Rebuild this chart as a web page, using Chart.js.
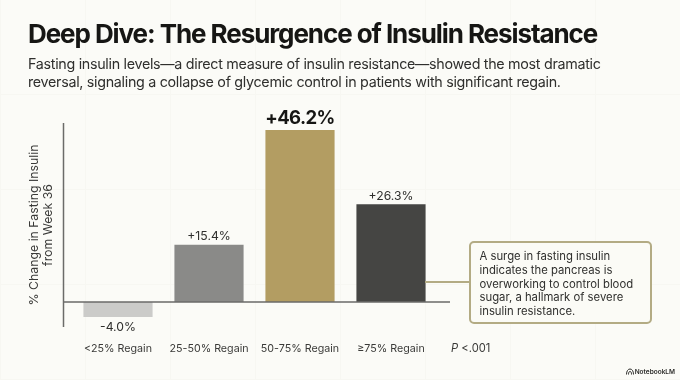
<!DOCTYPE html>
<html lang="en">
<head>
<meta charset="UTF-8" />
<title>Deep Dive: The Resurgence of Insulin Resistance</title>
<script src="https://cdn.jsdelivr.net/npm/chart.js"></script>
<style>
  html, body { margin: 0; padding: 0; }
  body {
    width: 680px; height: 380px; position: relative; overflow: hidden;
    font-family: Inter, "Noto Sans", sans-serif; color: #1d1d1b;
    background-color: #fbfbf7;
    background-image:
      linear-gradient(to right, #f7f7f2 1px, transparent 1px),
      linear-gradient(to bottom, #f7f7f2 1px, transparent 1px);
    background-size: 85px 95px;
    background-position: 0 -1px;
  }
  #chart { position: absolute; left: 0; top: 0; }
  h1 {
    position: absolute; left: 28px; top: 17px; margin: 0; white-space: nowrap;
    font-size: 26px; line-height: 34px; font-weight: 700; letter-spacing: -1.08px; color: #161614;
  }
  #sub {
    position: absolute; left: 28px; top: 55px; margin: 0; white-space: nowrap;
    font-size: 14.3px; line-height: 17.5px; color: #2f2f2d; letter-spacing: -0.3px;
  }
  #note {
    position: absolute; left: 469px; top: 240.5px; width: 183px; height: 83px;
    box-sizing: border-box; border: 2px solid #b3ab84; border-radius: 5px;
    background: #fbfbf6; padding: 7.5px 0 0 8.5px;
    font-size: 11.3px; line-height: 13.75px; color: #2f2f2d; white-space: nowrap;
  }
  #link { position: absolute; left: 425px; top: 281px; width: 44px; height: 2px; background: #b3ab84; }
  #pval { position: absolute; left: 451px; top: 341px; font-size: 11.2px; line-height: 15px; color: #3a3a38; }
  #brand {
    position: absolute; right: 5px; top: 368px; font-size: 6.5px; line-height: 9px;
    font-weight: 600; color: #2a2a28;
  }
  #brand svg { vertical-align: -1px; margin-right: 1px; }
</style>
</head>
<body>
<canvas id="chart" width="680" height="380"></canvas>
<h1>Deep Dive: The Resurgence of Insulin Resistance</h1>
<p id="sub">Fasting insulin levels—a direct measure of insulin resistance—showed the most dramatic<br>reversal, signaling a collapse of glycemic control in patients with significant regain.</p>
<div id="link"></div>
<div id="note">A surge in fasting insulin<br>indicates the pancreas is<br>overworking to control blood<br>sugar, a hallmark of severe<br>insulin resistance.</div>
<div id="pval"><i>P</i> &lt;.001</div>
<div id="brand"><svg width="8" height="7" viewBox="0 0 8 7"><path d="M0.5 6.5C0.5 3 2 1 4 1s3.500 2 3.500 5.500M2.500 6.500C2.500 4.500 3 3.500 4 3.500s1.500 1 1.500 3" fill="none" stroke="#2a2a28" stroke-width="1"/></svg>NotebookLM</div>

<script>
const categories = ['<25% Regain', '25-50% Regain', '50-75% Regain', '≥75% Regain'];
const changeValues = [-4.0, 15.4, 46.2, 26.3];
const barColors = ['#cbcbc9', '#8a8a88', '#b39d62', '#454543'];
const axisTitle = ['% Change in Fasting Insulin', 'from Week 36'];
const highlightIndex = 2;

// axis lines run a bit past the bars' category band, so they are drawn here
const axisLines = {
  id: 'axisLines',
  afterDatasetsDraw(chart) {
    const { ctx, scales } = chart;
    const zero = scales.y.getPixelForValue(0);
    ctx.save();
    ctx.strokeStyle = '#6b6b69';
    ctx.lineWidth = 1.5;
    ctx.beginPath();
    ctx.moveTo(63.5, scales.y.top);
    ctx.lineTo(63.5, scales.y.bottom);
    ctx.moveTo(63.5, zero);
    ctx.lineTo(450, zero);
    ctx.stroke();
    ctx.restore();
  }
};

// value labels above / below the bars
const valueLabels = {
  id: 'valueLabels',
  afterDatasetsDraw(chart) {
    const { ctx } = chart;
    const bars = chart.getDatasetMeta(0).data;
    ctx.save();
    ctx.textAlign = 'center';
    bars.forEach((bar, i) => {
      const v = changeValues[i];
      const big = i === highlightIndex;
      ctx.font = (big ? '700 18.5px' : '400 12.2px') + ' Inter';
      ctx.letterSpacing = big ? '-0.6px' : '0px';
      ctx.fillStyle = big ? '#161614' : '#2f2f2d';
      ctx.textBaseline = v < 0 ? 'top' : 'bottom';
      const y = v < 0 ? bar.y + 4 : bar.y - 2;
      ctx.fillText((v > 0 ? '+' : '') + v.toFixed(1) + '%', bar.x, y);
    });
    ctx.restore();
  }
};

new Chart(document.getElementById('chart').getContext('2d'), {
  type: 'bar',
  data: {
    labels: categories,
    datasets: [{
      data: changeValues,
      backgroundColor: barColors,
      barPercentage: 0.76,
      categoryPercentage: 1
    }]
  },
  options: {
    responsive: false,
    animation: false,
    layout: { padding: { left: 27, right: 243.5, top: 123, bottom: 0 } },
    plugins: { legend: { display: false }, tooltip: { enabled: false } },
    scales: {
      x: {
        grid: { display: false },
        border: { display: false },
        ticks: { color: '#3a3a38', font: { family: 'Inter', size: 10.7 }, padding: 7, maxRotation: 0, autoSkip: false },
        afterFit(scale) { scale.height = 53; }
      },
      y: {
        min: -6.7,
        max: 48.1,
        grid: { display: false },
        border: { display: false },
        ticks: { display: false },
        title: {
          display: true,
          text: axisTitle,
          color: '#3a3a38',
          font: { family: 'Inter', size: 12.3, lineHeight: 1.14 },
          padding: 0
        },
        afterFit(scale) { scale.width = 45.5; }
      }
    }
  },
  plugins: [axisLines, valueLabels]
});
</script>
</body>
</html>
